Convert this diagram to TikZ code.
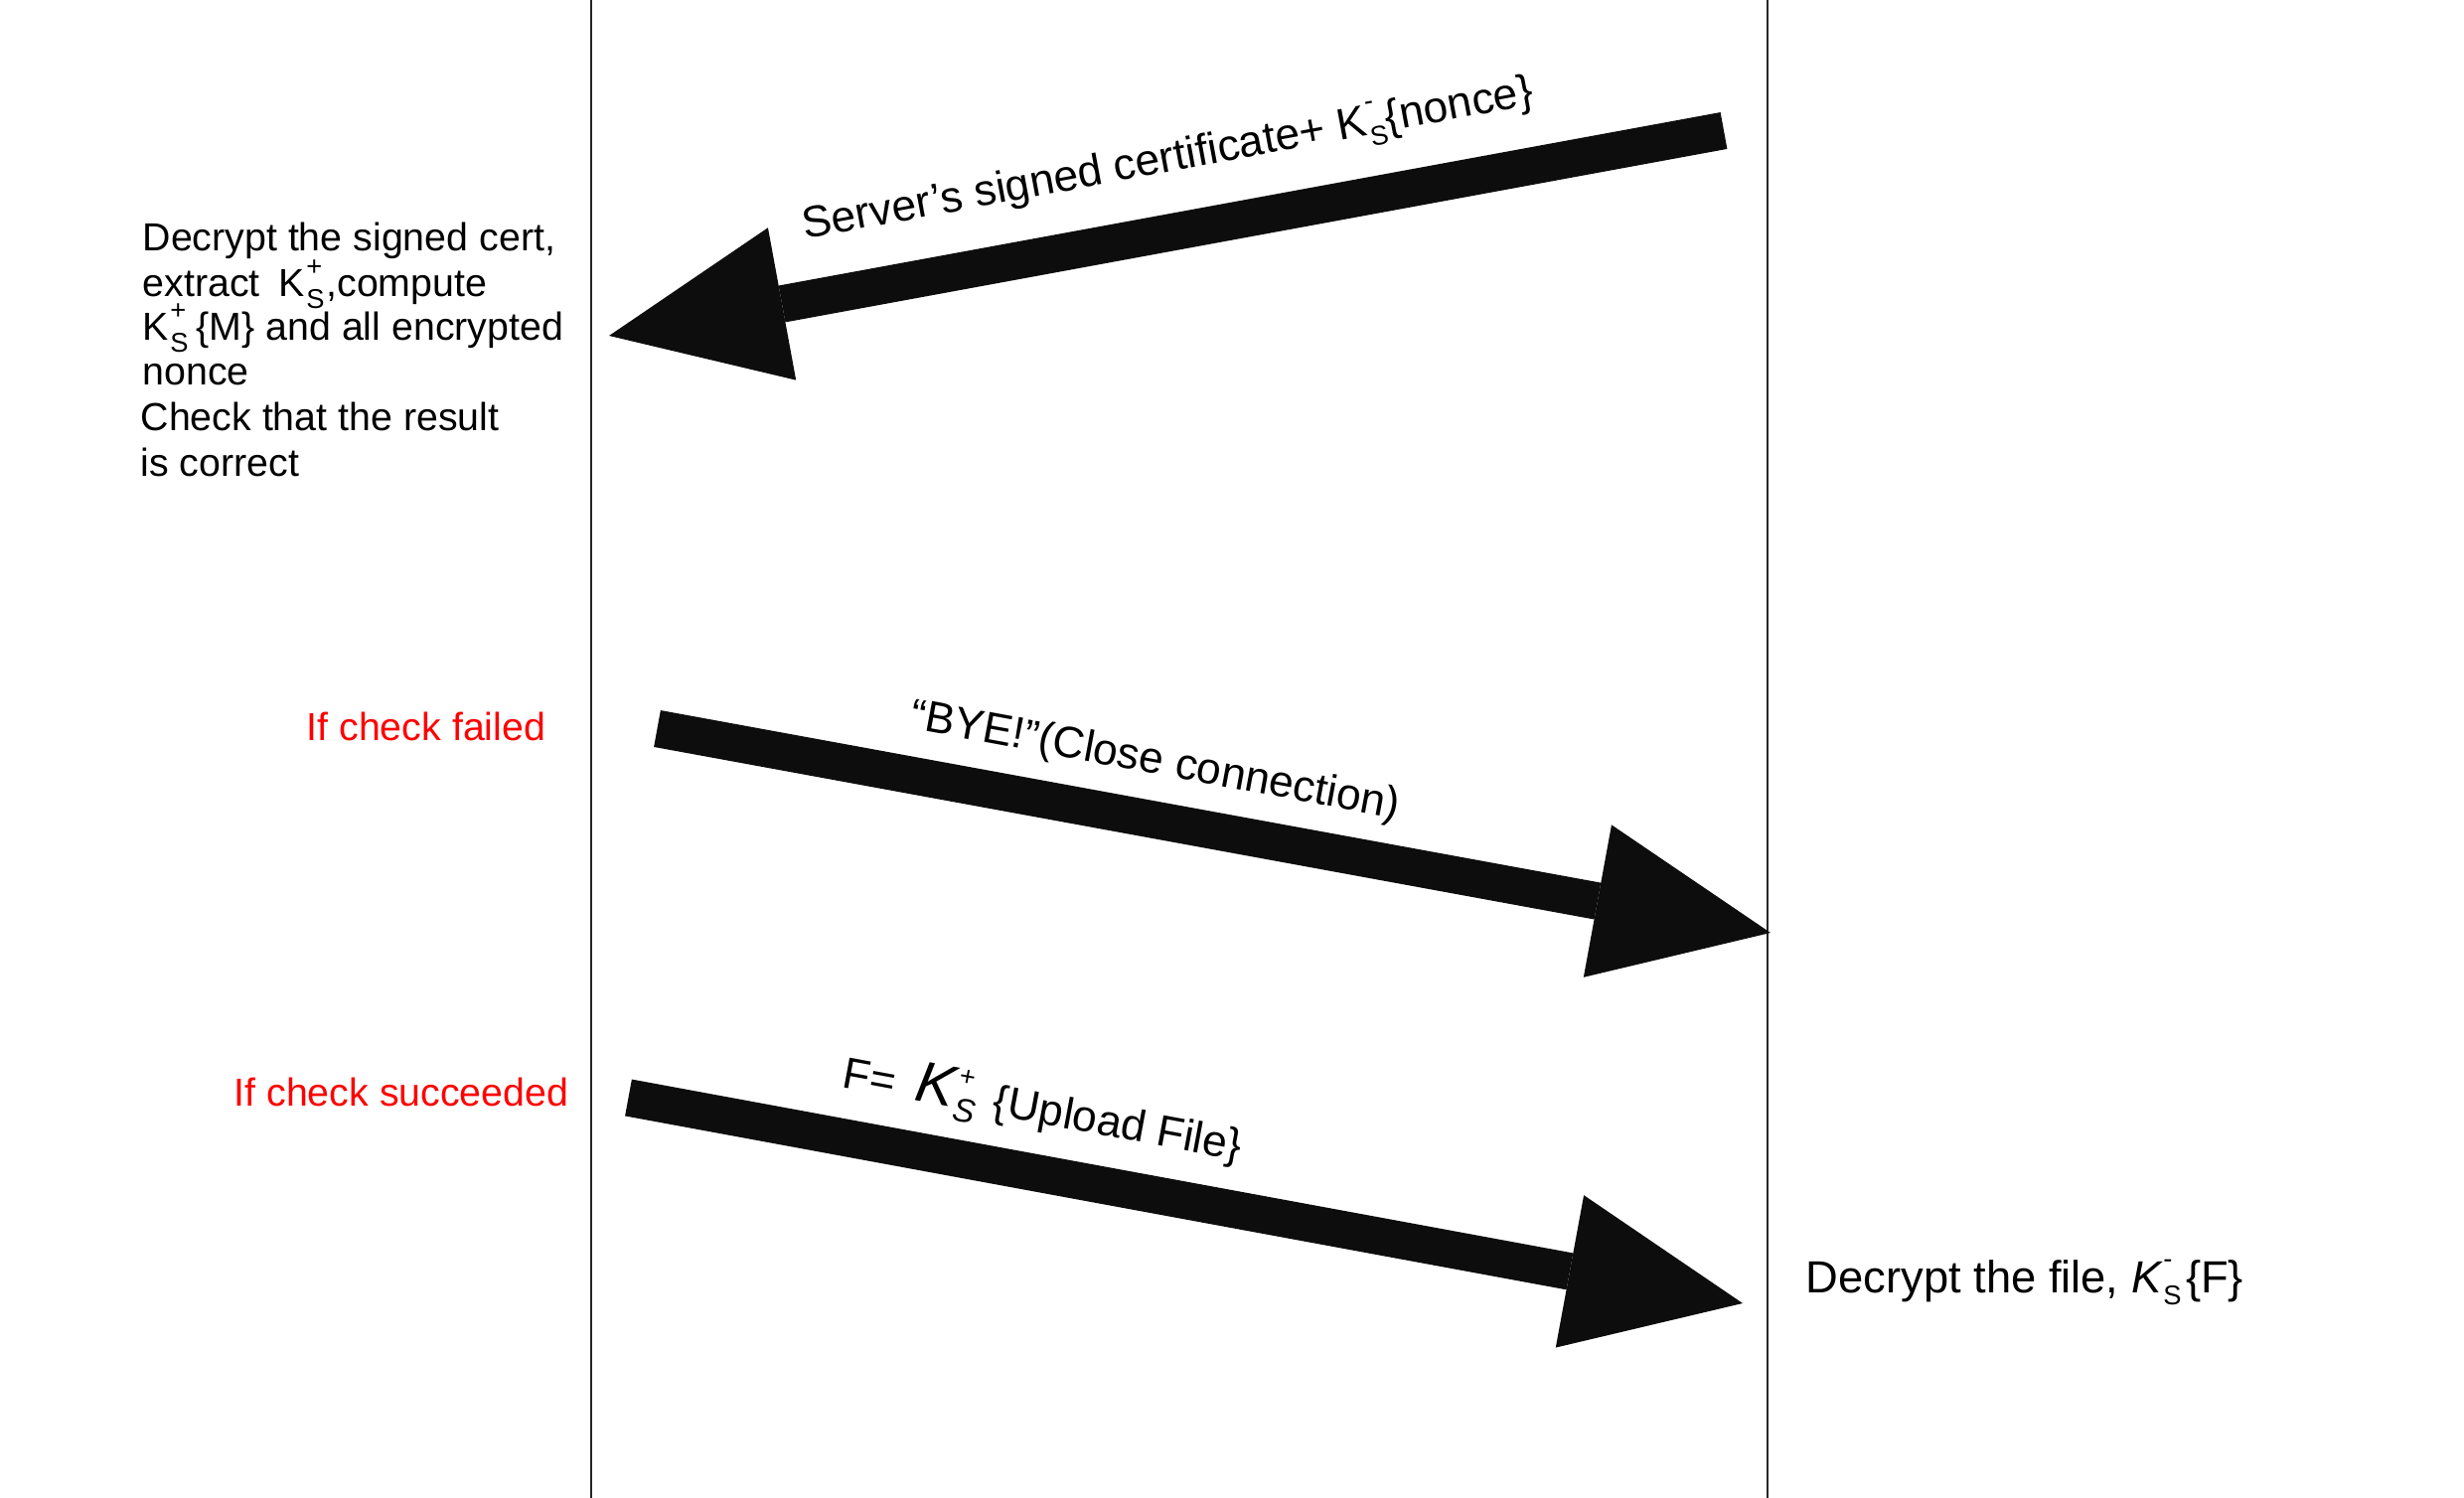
\documentclass[tikz,border=0pt]{standalone}
\usepackage{fontspec}
\setmainfont{Liberation Sans}
\usetikzlibrary{arrows.meta}
\newcommand\subfont{\fontsize{8.2}{9}\selectfont}
\newcommand\supsub[2]{\kern.04em\rlap{\raisebox{.55em}{\subfont #1}}\raisebox{-.28em}{\subfont #2}}
\newcommand\smallfont{\fontsize{11.8}{14}\selectfont}
\newcommand\bigfont{\fontsize{13.3}{15}\selectfont}
\begin{document}
\begin{tikzpicture}[x=0.3pt,y=-0.3pt,
  lifeline/.style={draw=black!85,line width=0.45pt},
  fatarrow/.style={draw=black!95,line width=11.25pt,line cap=butt,
     -{Triangle[length=53.1pt,width=46.8pt,line width=0pt]}},
  txt/.style={inner sep=0pt,anchor=base west,font=\smallfont},
  lbl/.style={inner sep=0pt,anchor=base west,font=\bigfont},
  redtxt/.style={txt,text=red}]
\useasboundingbox (0,0) rectangle (2480,1508);
% lifelines
\coordinate (aTop) at (595,0);
\coordinate (aBot) at (595,1508);
\coordinate (bTop) at (1779,0);
\coordinate (bBot) at (1779,1508);
\draw[lifeline] (aTop) -- (aBot);
\draw[lifeline] (bTop) -- (bBot);
% arrow end points
\coordinate (t1) at (1735,131.5);
\coordinate (h1) at (613,338);
\coordinate (t2) at (661.5,733.5);
\coordinate (h2) at (1782,939);
\coordinate (t3) at (632.5,1105);
\coordinate (h3) at (1754,1312);
\draw[fatarrow] (t1) -- (h1);
\draw[fatarrow] (t2) -- (h2);
\draw[fatarrow] (t3) -- (h3);
% arrow labels
\node[lbl,rotate=10.5] (l1) at (810,241) {Server’s signed certificate+ K\supsub{-}{S}\{nonce\}};
\node[lbl,rotate=-10.5] (l2) at (914,733) {“BYE!”(Close connection)};
\node[lbl,rotate=-10.5] (l3) at (846,1094) {F=\ \kern.2em{\fontsize{17.5}{18}\selectfont\itshape K}{\itshape\supsub{+}{\fontsize{10}{10}\selectfont S}}\kern.1em\ \{Upload File\}};
% left text
\node[txt] (d1) at (143,253) {Decrypt the signed cert,};
\node[txt] (d2) at (143,299) {extract\ \kern.2em K\supsub{+}{S}\kern.05em,compute};
\node[txt] (d3) at (143,343) {K\supsub{+}{S}\kern.2em\{M\} and all encrypted};
\node[txt] (d4) at (143,388) {nonce};
\node[txt] (d5) at (141,434) {Check that the result};
\node[txt] (d6) at (141,480) {is correct};
% red labels
\node[redtxt] (f1) at (308,746) {If check failed};
\node[redtxt] (f2) at (235,1114) {If check succeeded};
% right text
\node[lbl,font=\fontsize{13.6}{15}\selectfont] (r1) at (1817,1301) {Decrypt the file, {\itshape K}\supsub{-}{S}\kern.1em\{F\}};
\end{tikzpicture}
\end{document}
